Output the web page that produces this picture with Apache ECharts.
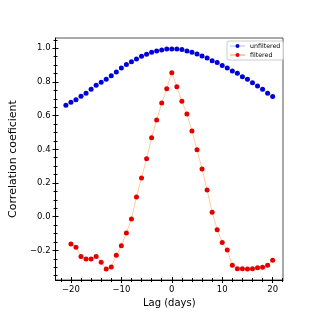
<!DOCTYPE html>
<html><head><meta charset="utf-8">
<script src="https://cdn.jsdelivr.net/npm/echarts@6/dist/echarts.min.js"></script>
<style>html,body{margin:0;padding:0;background:#fff}#c{width:315px;height:315px}</style>
</head><body><div id="c"></div>
<script>
// Data
const unfilteredLags = [-21,-20,-19,-18,-17,-16,-15,-14,-13,-12,-11,-10,-9,-8,-7,-6,-5,-4,-3,-2,-1,0,1,2,3,4,5,6,7,8,9,10,11,12,13,14,15,16,17,18,19,20];
const unfilteredValues = [0.661,0.679,0.695,0.715,0.733,0.756,0.780,0.798,0.816,0.837,0.859,0.883,0.903,0.920,0.936,0.952,0.964,0.976,0.984,0.990,0.995,
  0.996,0.996,0.992,0.984,0.976,0.966,0.954,0.942,0.926,0.915,0.897,0.883,0.865,0.852,0.831,0.816,0.796,0.776,0.757,0.733,0.713];
const filteredLags = [-20,-19,-18,-17,-16,-15,-14,-13,-12,-11,-10,-9,-8,-7,-6,-5,-4,-3,-2,-1,0,1,2,3,4,5,6,7,8,9,10,11,12,13,14,15,16,17,18,19,20];
const filteredValues = [-0.162,-0.182,-0.237,-0.251,-0.251,-0.237,-0.271,-0.311,-0.299,-0.229,-0.172,-0.097,-0.014,0.117,0.230,0.344,0.469,0.574,0.675,0.760,
  0.855,0.772,0.685,0.610,0.509,0.398,0.283,0.158,0.027,-0.077,-0.154,-0.198,-0.289,-0.309,-0.309,-0.311,-0.309,-0.303,-0.301,-0.289,-0.259];
const xTicks = [-20,-10,0,10,20];
const yTicks = [-0.2,0.0,0.2,0.4,0.6,0.8,1.0];

const X_MIN = -23.05, X_MAX = 22.05, Y_MIN = -0.376, Y_MAX = 1.061;
const xMinor = []; for (let v = -22; v <= 22; v += 2) if (v % 10 !== 0) xMinor.push(v);
const yMinor = []; for (let k = -7; k <= 21; k++) if (k % 4 !== 0) yMinor.push(+(k*0.05).toFixed(2));

const fmt = (v, d) => { const s = Number(v).toFixed(d); return s.replace('-', '\u2212'); };
const FONT = 'DejaVu Sans';

function xAx(o) {
  return Object.assign({type:'value', min:X_MIN, max:X_MAX, position:'bottom', gridIndex:0,
    splitLine:{show:false}, axisLine:{show:false, onZero:false}, axisLabel:{show:false},
    axisTick:{show:true, lineStyle:{color:'#000', width:1}}}, o);
}
function yAx(o) {
  return Object.assign({type:'value', min:Y_MIN, max:Y_MAX, position:'left', gridIndex:0,
    splitLine:{show:false}, axisLine:{show:false, onZero:false}, axisLabel:{show:false},
    axisTick:{show:true, lineStyle:{color:'#000', width:1}}}, o);
}

const chart = echarts.init(document.getElementById('c'), null, {renderer:'canvas'});
chart.setOption({
  animation:false,
  backgroundColor:'#fff',
  textStyle:{fontFamily:FONT},
  grid:{left:39, right:32, top:38, bottom:35, show:true, borderColor:'#555', borderWidth:1, containLabel:false},
  legend:{
    left:227, top:41, orient:'vertical', padding:[2,3,2,2], itemGap:3, itemWidth:15, itemHeight:5,
    borderColor:'#ccc', borderWidth:1, borderRadius:2, backgroundColor:'rgba(255,255,255,0.8)',
    textStyle:{fontFamily:FONT, fontSize:6.3, color:'#000'},
    data:['unfiltered','filtered']
  },
  xAxis:[
    xAx({axisLine:{show:true, onZero:false, lineStyle:{color:'#000', width:1}},
      name:'Lag (days)', nameLocation:'middle', nameGap:15,
      nameTextStyle:{fontFamily:FONT, fontSize:10, color:'#000'},
      axisTick:{show:true, inside:false, length:3, customValues:xTicks, lineStyle:{color:'#000'}},
      axisLabel:{show:true, customValues:xTicks, margin:5, fontFamily:FONT, fontSize:8.5, color:'#000',
        formatter:v=>fmt(v,0)}}),
    xAx({axisTick:{show:true, inside:true, length:3, customValues:xTicks, lineStyle:{color:'#000'}}}),
    xAx({axisTick:{show:true, inside:false, length:2, customValues:xMinor, lineStyle:{color:'#000'}}}),
    xAx({axisTick:{show:true, inside:true, length:2, customValues:xMinor, lineStyle:{color:'#000'}}})
  ],
  yAxis:[
    yAx({axisLine:{show:true, onZero:false, lineStyle:{color:'#000', width:1}},
      name:'Correlation coeficient', nameLocation:'middle', nameGap:31, nameRotate:90,
      nameTextStyle:{fontFamily:FONT, fontSize:11, color:'#000'},
      axisTick:{show:true, inside:false, length:3, customValues:yTicks, lineStyle:{color:'#000'}},
      axisLabel:{show:true, customValues:yTicks, margin:5, fontFamily:FONT, fontSize:8.5, color:'#000',
        formatter:v=>fmt(v,1)}}),
    yAx({axisTick:{show:true, inside:true, length:3, customValues:yTicks, lineStyle:{color:'#000'}}}),
    yAx({axisTick:{show:true, inside:false, length:2, customValues:yMinor, lineStyle:{color:'#000'}}}),
    yAx({axisTick:{show:true, inside:true, length:2, customValues:yMinor, lineStyle:{color:'#000'}}})
  ],
  series:[
    {name:'unfiltered', type:'line', xAxisIndex:0, yAxisIndex:0,
     data:unfilteredLags.map((x,i)=>[x, unfilteredValues[i]]),
     symbol:'circle', symbolSize:5, showSymbol:true,
     lineStyle:{color:'#cfe0f7', width:1}, itemStyle:{color:'#0000d8'}},
    {name:'filtered', type:'line', xAxisIndex:0, yAxisIndex:0,
     data:filteredLags.map((x,i)=>[x, filteredValues[i]]),
     symbol:'circle', symbolSize:5, showSymbol:true,
     lineStyle:{color:'#ffcc99', width:1}, itemStyle:{color:'#e40000'}}
  ]
});
</script></body></html>
